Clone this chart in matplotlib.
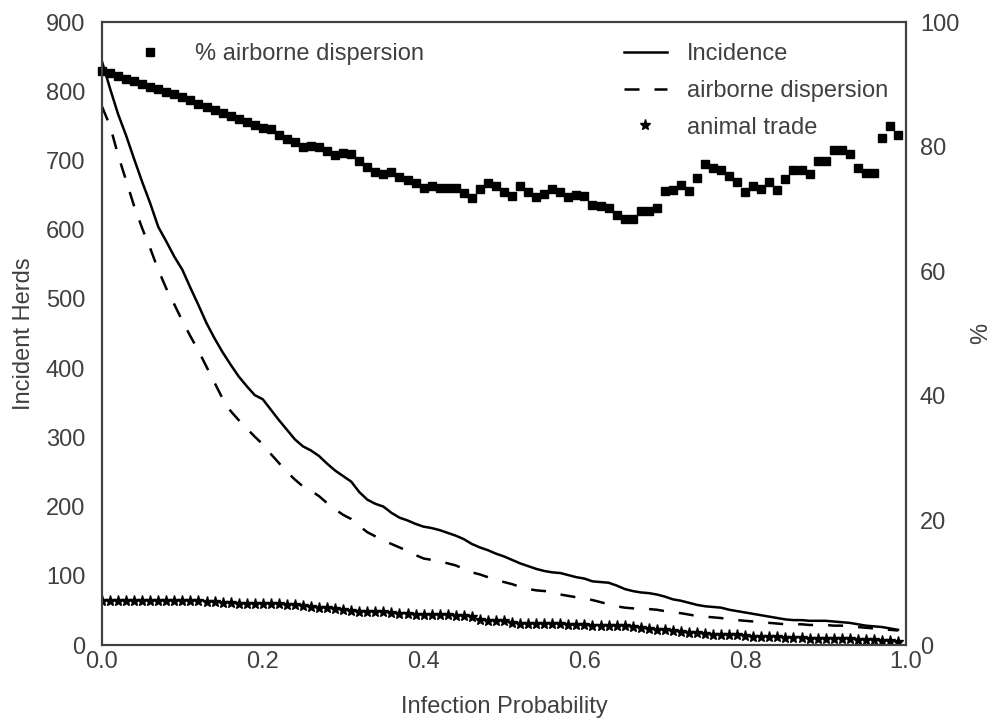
import numpy as np
import matplotlib
matplotlib.use("Agg")
import matplotlib.pyplot as plt

plt.rcParams['font.family'] = ['Liberation Sans', 'DejaVu Sans']

# infection probability 0.00 .. 0.99
prob = np.arange(100) / 100

incidence = [843, 804, 767, 736, 702, 669, 638, 604, 583, 561,
             542, 516, 491, 465, 443, 423, 405, 388, 374, 361,
             355, 340, 325, 311, 297, 287, 281, 273, 262, 252,
             244, 236, 221, 210, 204, 200, 191, 184, 180, 175,
             171, 169, 166, 162, 158, 153, 146, 141, 137, 132,
             128, 123, 118, 114, 110, 107, 105, 104, 101, 98,
             96, 92, 91, 90, 86, 81, 78, 76, 75, 73,
             70, 66, 64, 61, 58, 56, 55, 54, 51, 49,
             47, 45, 43, 41, 39, 37, 36, 36, 35, 35,
             35, 34, 33, 32, 30, 28, 27, 26, 24, 22]

airborne = [778, 750, 708, 671, 634, 602, 573, 542, 515, 492,
            468, 446, 425, 402, 379, 356, 338, 325, 313, 301,
            290, 276, 263, 250, 239, 229, 223, 215, 205, 196,
            188, 182, 172, 163, 157, 151, 146, 141, 136, 130,
            125, 123, 121, 118, 115, 110, 105, 102, 98, 94,
            91, 88, 84, 81, 79, 78, 77, 73, 71, 69,
            67, 65, 62, 59, 56, 54, 53, 52, 52, 51,
            49, 47, 46, 44, 42, 41, 40, 39, 37, 36,
            35, 34, 33, 32, 31, 30, 30, 30, 29, 29,
            29, 28, 28, 27, 26, 25, 24, 22, 22, 21]

animal_trade = [64, 64, 64, 64, 64, 64, 63, 63, 63, 63,
                63, 63, 63, 62, 62, 61, 61, 60, 60, 60,
                59, 59, 59, 58, 58, 57, 55, 54, 53, 52,
                50, 49, 48, 48, 48, 47, 46, 45, 45, 44,
                44, 44, 43, 43, 42, 42, 41, 36, 35, 35,
                34, 32, 31, 31, 31, 30, 30, 30, 29, 29,
                29, 28, 28, 28, 28, 27, 26, 24, 23, 22,
                21, 20, 19, 18, 17, 16, 15, 15, 14, 14,
                13, 12, 12, 11, 11, 10, 10, 10, 9, 9,
                9, 8, 8, 8, 7, 7, 7, 6, 6, 5]

pct_airborne = [92.2, 91.8, 91.3, 90.9, 90.5, 90.0, 89.6, 89.2, 88.8, 88.4,
                88.0, 87.5, 86.8, 86.4, 85.8, 85.4, 84.9, 84.4, 83.9, 83.4,
                83.0, 82.8, 81.8, 81.2, 80.7, 79.9, 80.1, 79.9, 79.3, 78.7,
                78.9, 78.8, 77.7, 76.8, 76.0, 75.6, 76.0, 75.2, 74.6, 74.1,
                73.3, 73.7, 73.4, 73.3, 73.3, 72.6, 71.8, 73.2, 74.2, 73.6,
                72.7, 72.1, 73.6, 72.7, 71.9, 72.4, 73.2, 72.7, 71.9, 72.2,
                72.0, 70.7, 70.5, 70.2, 69.0, 68.4, 68.4, 69.7, 69.7, 70.2,
                72.8, 73.0, 73.8, 72.9, 74.9, 77.2, 76.6, 76.2, 75.3, 74.4,
                72.7, 73.7, 73.2, 74.4, 73.0, 74.8, 76.2, 76.2, 75.6, 77.7,
                77.7, 79.4, 79.4, 78.8, 76.6, 75.7, 75.7, 81.4, 83.3, 81.9]

txt = '#404040'
spine = '#404040'
fs = 17

fig = plt.figure(figsize=(9.95, 7.22), dpi=100)
ax = fig.add_axes([0.1025, 0.1066, 0.8081, 0.8629])
ax2 = ax.twinx()

l1, = ax.plot(prob, incidence, color='black', lw=1.8, label='Incidence')
l2, = ax.plot(prob, airborne, color='black', lw=1.8, linestyle=(0, (6, 6)),
              label='airborne dispersion')
l3, = ax.plot(prob, animal_trade, linestyle='none', marker='*', ms=8,
              color='black', label='animal trade')
sq, = ax2.plot(prob, pct_airborne, linestyle='none', marker='s', ms=5.5,
               color='black', label='% airborne dispersion', clip_on=False)

ax.set_xlim(0, 1)
ax.set_ylim(0, 900)
ax2.set_ylim(0, 100)
ax.set_xticks(np.arange(0, 1.01, 0.2))
ax.set_xticklabels(['%.1f' % v for v in np.arange(0, 1.01, 0.2)])
ax.set_yticks(range(0, 901, 100))
ax2.set_yticks(range(0, 101, 20))

for a in (ax, ax2):
    for s in a.spines.values():
        s.set_color(spine)
        s.set_linewidth(1.5)
ax.tick_params(axis='x', length=0, pad=4, labelsize=fs, labelcolor=txt)
ax.tick_params(axis='y', length=0, pad=12, labelsize=fs, labelcolor=txt)
ax2.tick_params(axis='y', length=0, pad=10, labelsize=fs, labelcolor=txt)

ax.set_xlabel('Infection Probability', fontsize=fs, color=txt, labelpad=17)
ax.set_ylabel('Incident Herds', fontsize=fs, color=txt, labelpad=8)
ax2.set_ylabel('%', fontsize=fs, color=txt, labelpad=8)

leg1 = ax2.legend(handles=[sq], loc='upper left', bbox_to_anchor=(0.0, 1.0),
                  frameon=False, fontsize=fs, handlelength=2.3,
                  handletextpad=0.72, borderaxespad=0.5, labelcolor=txt)
ax2.add_artist(leg1)
ax2.legend(handles=[l1, l2, l3], loc='upper left', bbox_to_anchor=(0.623, 1.0),
           frameon=False, fontsize=fs, handlelength=1.8, handletextpad=0.85,
           labelspacing=0.62, borderaxespad=0.5, labelcolor=txt)

fig.savefig('out.png', dpi=100)
